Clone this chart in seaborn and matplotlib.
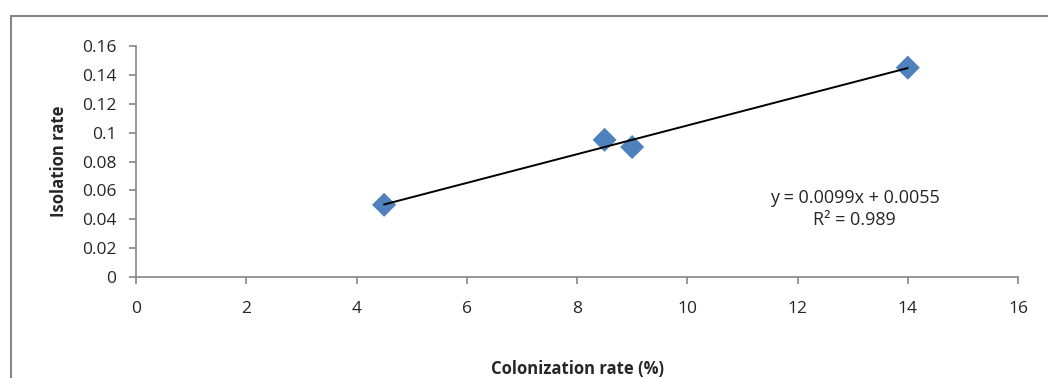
import numpy as np
import pandas as pd
import seaborn as sns
import matplotlib.pyplot as plt
from matplotlib.lines import Line2D

# Colonization vs isolation data
colonization = [4.5, 8.5, 9.0, 14.0]
isolation = [0.05, 0.095, 0.09, 0.145]

df = pd.DataFrame({'colonization': colonization, 'isolation': isolation})

sns.set_style('white')
plt.rcParams['font.family'] = ['Open Sans', 'DejaVu Sans']

fig = plt.figure(figsize=(10.48, 3.78), dpi=100)
ax = fig.add_axes([0.1298, 0.2672, 0.8416, 0.6111])

# Scatter + linear trendline
sns.regplot(data=df, x='colonization', y='isolation', ax=ax, ci=None, truncate=True,
            marker='D', color='#4F81BD',
            scatter_kws={'s': 150, 'edgecolor': 'none', 'alpha': 1},
            line_kws={'color': 'black', 'linewidth': 1.4})

# Equation of the fit
slope, intercept = np.polyfit(colonization, isolation, 1)
r2 = np.corrcoef(colonization, isolation)[0, 1] ** 2
ax.text(13.04, 0.047, f'y = {slope:.4f}x + {intercept:.4f}\nR² = {r2:.3f}',
        ha='center', va='center', fontsize=13, linespacing=1.25)

ax.set_xlim(0, 16)
ax.set_ylim(0, 0.16)
ax.set_xticks(np.arange(0, 17, 2))
ax.set_yticks(np.arange(0, 0.161, 0.02))
ax.set_yticklabels(['0', '0.02', '0.04', '0.06', '0.08', '0.1', '0.12', '0.14', '0.16'])

sns.despine(ax=ax)
for s in ['left', 'bottom']:
    ax.spines[s].set_color('#868686')
    ax.spines[s].set_linewidth(1.2)
ax.tick_params(axis='both', which='major', direction='out', length=5, width=1.2,
               bottom=True, left=True, color='#868686', labelsize=12.5, pad=12)
ax.tick_params(axis='y', pad=9)

ax.set_xlabel('Colonization rate (%)', fontsize=12, fontweight='bold')
ax.xaxis.set_label_coords(0.5, -0.40)
ax.xaxis.label.set_va('center')
ax.set_ylabel('Isolation rate', fontsize=12, fontweight='bold', labelpad=10)

# Chart-area frame (top and left edges only visible)
fig.add_artist(Line2D([11 / 1048, 11 / 1048], [0, 1 - 16 / 378], color='#868686', linewidth=1.5))
fig.add_artist(Line2D([11 / 1048, 1], [1 - 16 / 378, 1 - 16 / 378], color='#868686', linewidth=1.5))

fig.savefig('out.png', dpi=100)
